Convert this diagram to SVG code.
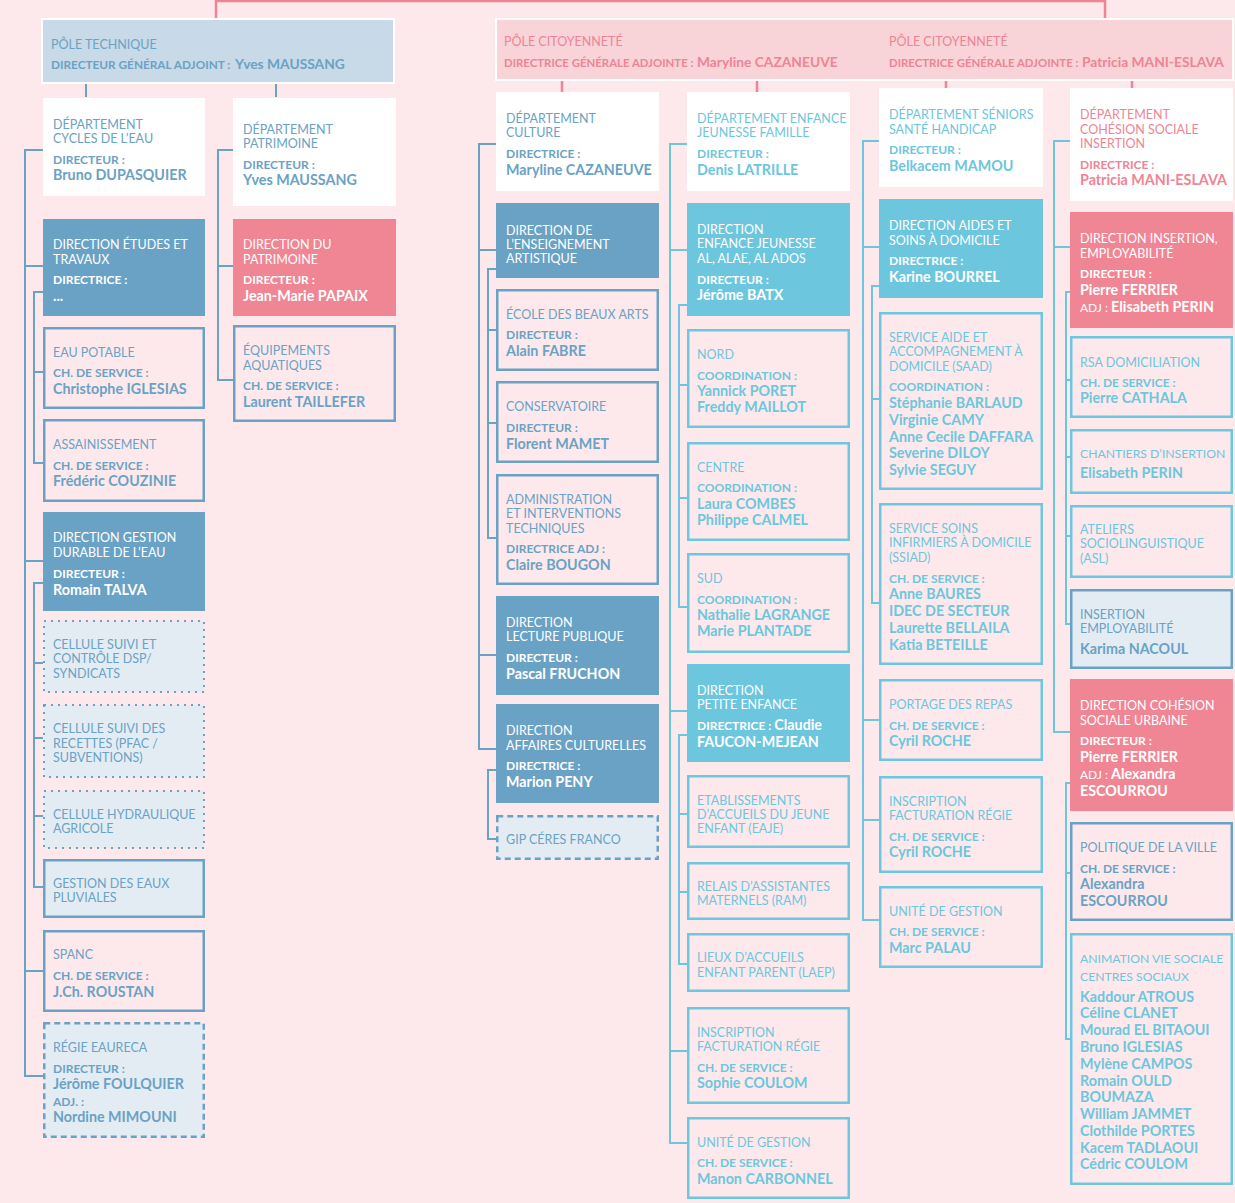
<svg xmlns="http://www.w3.org/2000/svg" width="1235" height="1203" viewBox="0 0 1235 1203">
<style>
text{font-family:Lato,"Liberation Sans",sans-serif}
.t{font-size:12.5px;font-weight:400}
.ts{font-size:12.2px}
.l{font-size:12px;font-weight:700}
.pl{font-size:11.8px;font-weight:700}
.pl2{font-size:11.4px;font-weight:700}
.n{font-size:14.3px;font-weight:700}
.pn{font-size:13.8px;font-weight:700}
.a{font-size:12px;font-weight:400}
.B{fill:#6aa2c5}.C{fill:#6cc6dd}.P{fill:#ef8495}.W{fill:#fff}
.ob{fill:none;stroke:#6aa2c5;stroke-width:2.5}
.oc{fill:none;stroke:#6dc7de;stroke-width:2.5}
.fb{fill:#6aa2c5}.fc{fill:#6cc6dd}.fp{fill:#f08594}.fw{fill:#fff}
.dot{fill:#e3ecf3;stroke:#6aa2c5;stroke-width:2;stroke-dasharray:2 5}
.dash{fill:#e3ecf3;stroke:#6aa2c5;stroke-width:2.5;stroke-dasharray:6 4}
.lb{fill:#e3ecf3;stroke:#6aa2c5;stroke-width:2.5}
.kb{fill:none;stroke:#6aa2c5;stroke-width:2}
.kc{fill:none;stroke:#6cc6dd;stroke-width:2}
.kp{fill:none;stroke:#ef8495;stroke-width:2.5}
</style>
<rect width="1235" height="1203" fill="#fde9ec"/>

<g id="connectors">
<path class="kp" d="M216 18V1H1105V18"/>
<path class="kp" d="M562 80V92M757 80V92M946 80V88M1132 80V88"/>
<path class="kb" d="M86 84V97M276 84V97"/>
<path class="kb" d="M43 150H25V1076H43M25 266H43M25 561H43M25 971H43"/>
<path class="kb" d="M43 292H34V463H43M34 372H43"/>
<path class="kb" d="M43 583H34V887H43M34 663H43M34 738H43M34 816H43"/>
<path class="kb" d="M233 150H218V380H233M218 266H233"/>
<path class="kb" d="M496 144H479V749H496M479 250H496M479 655H496"/>
<path class="kb" d="M496 269H488V538H496M488 330H496M488 423H496"/>
<path class="kb" d="M496 770H488V839H496"/>
<path class="kc" d="M687 144H670V1143H687M670 250H687M670 711H687M670 1051H687"/>
<path class="kc" d="M687 305H679V607H687M679 385H687M679 498H687"/>
<path class="kc" d="M687 735H679V964H687M679 814H687M679 892H687"/>
<path class="kc" d="M879 141H863V920H879M863 247H879M863 720H879M863 820H879"/>
<path class="kc" d="M879 286H872V603H879M872 399H879"/>
<path class="kc" d="M1070 141H1054V732H1070M1054 247H1070"/>
<path class="kc" d="M1070 292H1066V624H1070M1066 380H1070M1066 457H1070M1066 536H1070"/>
<path class="kc" d="M1070 783H1066V1039H1070M1066 873H1070"/>
</g>

<g id="pole-technique">
<rect x="42" y="19" width="352" height="64" fill="#c8d9e7" stroke="#fff" stroke-width="2"/>
<text x="51" y="49" class="t B">PÔLE TECHNIQUE</text>
<text x="51" y="69" class="pl B">DIRECTEUR GÉNÉRAL ADJOINT :</text>
<text x="235" y="69" class="pn B">Yves MAUSSANG</text>
</g>

<g id="pole-citoyennete">
<rect x="496" y="19" width="737" height="61" fill="#f8d3d8" stroke="#fff" stroke-width="2"/>
<text x="504" y="46" class="t P">PÔLE CITOYENNETÉ</text>
<text x="504" y="67" class="pl2 P">DIRECTRICE GÉNÉRALE ADJOINTE :</text>
<text x="697" y="67" class="pn P">Maryline CAZANEUVE</text>
<text x="889" y="46" class="t P">PÔLE CITOYENNETÉ</text>
<text x="889" y="67" class="pl2 P">DIRECTRICE GÉNÉRALE ADJOINTE :</text>
<text x="1082" y="67" class="pn P">Patricia MANI-ESLAVA</text>
</g>

<!-- Technique -->
<g id="dept-cycles-eau">
<rect x="43" y="98" width="162" height="98" class="fw"/>
<text x="53" y="129" class="t B">DÉPARTEMENT</text>
<text x="53" y="143" class="t B">CYCLES DE L’EAU</text>
<text x="53" y="164" class="l B">DIRECTEUR :</text>
<text x="53" y="180" class="n B">Bruno DUPASQUIER</text>
</g>
<g id="dept-patrimoine">
<rect x="233" y="98" width="163" height="108" class="fw"/>
<text x="243" y="134" class="t B">DÉPARTEMENT</text>
<text x="243" y="148" class="t B">PATRIMOINE</text>
<text x="243" y="169" class="l B">DIRECTEUR :</text>
<text x="243" y="185" class="n B">Yves MAUSSANG</text>
</g>
<g id="dir-etudes-travaux">
<rect x="43" y="219" width="162" height="97" class="fb"/>
<text x="53" y="249" class="t W">DIRECTION ÉTUDES ET</text>
<text x="53" y="264" class="t W">TRAVAUX</text>
<text x="53" y="284" class="l W">DIRECTRICE :</text>
<text x="53" y="301" class="n W">...</text>
</g>
<g id="eau-potable">
<rect x="44.25" y="328.25" width="159.5" height="79.5" class="ob"/>
<text x="53" y="357" class="t B">EAU POTABLE</text>
<text x="53" y="377" class="l B">CH. DE SERVICE :</text>
<text x="53" y="394" class="n B">Christophe IGLESIAS</text>
</g>
<g id="assainissement">
<rect x="44.25" y="420.25" width="159.5" height="80.5" class="ob"/>
<text x="53" y="449" class="t B">ASSAINISSEMENT</text>
<text x="53" y="470" class="l B">CH. DE SERVICE :</text>
<text x="53" y="486" class="n B">Frédéric COUZINIE</text>
</g>
<g id="dir-gestion-durable">
<rect x="43" y="512" width="162" height="99" class="fb"/>
<text x="53" y="542" class="t W">DIRECTION GESTION</text>
<text x="53" y="557" class="t W">DURABLE DE L’EAU</text>
<text x="53" y="578" class="l W">DIRECTEUR :</text>
<text x="53" y="595" class="n W">Romain TALVA</text>
</g>
<g id="cellule-dsp">
<rect x="44" y="621" width="160" height="71" class="dot"/>
<text x="53" y="649" class="t B">CELLULE SUIVI ET</text>
<text x="53" y="663" class="t B">CONTRÔLE DSP/</text>
<text x="53" y="678" class="t B">SYNDICATS</text>
</g>
<g id="cellule-recettes">
<rect x="44" y="705" width="160" height="72" class="dot"/>
<text x="53" y="733" class="t B">CELLULE SUIVI DES</text>
<text x="53" y="748" class="t B">RECETTES (PFAC /</text>
<text x="53" y="762" class="t B">SUBVENTIONS)</text>
</g>
<g id="cellule-hydraulique">
<rect x="44" y="791" width="160" height="57" class="dot"/>
<text x="53" y="819" class="t B">CELLULE HYDRAULIQUE</text>
<text x="53" y="833" class="t B">AGRICOLE</text>
</g>
<g id="eaux-pluviales">
<rect x="44.25" y="860.25" width="159.5" height="56.5" class="lb"/>
<text x="53" y="888" class="t B">GESTION DES EAUX</text>
<text x="53" y="902" class="t B">PLUVIALES</text>
</g>
<g id="spanc">
<rect x="44.25" y="931.25" width="159.5" height="79.5" class="ob"/>
<text x="53" y="959" class="t B">SPANC</text>
<text x="53" y="980" class="l B">CH. DE SERVICE :</text>
<text x="53" y="997" class="n B">J.Ch. ROUSTAN</text>
</g>
<g id="regie-eaureca">
<rect x="44.25" y="1023.25" width="159.5" height="113.5" class="dash"/>
<text x="53" y="1052" class="t B">RÉGIE EAURECA</text>
<text x="53" y="1073" class="l B">DIRECTEUR :</text>
<text x="53" y="1089" class="n B">Jérôme FOULQUIER</text>
<text x="53" y="1106" class="l B">ADJ. :</text>
<text x="53" y="1122" class="n B">Nordine MIMOUNI</text>
</g>
<g id="dir-patrimoine">
<rect x="233" y="219" width="163" height="97" class="fp"/>
<text x="243" y="249" class="t W">DIRECTION DU</text>
<text x="243" y="264" class="t W">PATRIMOINE</text>
<text x="243" y="284" class="l W">DIRECTEUR :</text>
<text x="243" y="301" class="n W">Jean-Marie PAPAIX</text>
</g>
<g id="equipements-aquatiques">
<rect x="234.25" y="326.25" width="160.5" height="94.5" class="ob"/>
<text x="243" y="355" class="t B">ÉQUIPEMENTS</text>
<text x="243" y="370" class="t B">AQUATIQUES</text>
<text x="243" y="390" class="l B">CH. DE SERVICE :</text>
<text x="243" y="407" class="n B">Laurent TAILLEFER</text>
</g>

<!-- Culture -->
<g id="dept-culture">
<rect x="496" y="92" width="163" height="99" class="fw"/>
<text x="506" y="123" class="t B">DÉPARTEMENT</text>
<text x="506" y="137" class="t B">CULTURE</text>
<text x="506" y="158" class="l B">DIRECTRICE :</text>
<text x="506" y="175" class="n B">Maryline CAZANEUVE</text>
</g>
<g id="dir-enseignement">
<rect x="496" y="203" width="163" height="75" class="fb"/>
<text x="506" y="235" class="t W">DIRECTION DE</text>
<text x="506" y="249" class="t W">L’ENSEIGNEMENT</text>
<text x="506" y="263" class="t W">ARTISTIQUE</text>
</g>
<g id="ecole-beaux-arts">
<rect x="497.25" y="290.25" width="160.5" height="79.5" class="ob"/>
<text x="506" y="319" class="t B">ÉCOLE DES BEAUX ARTS</text>
<text x="506" y="339" class="l B">DIRECTEUR :</text>
<text x="506" y="356" class="n B">Alain FABRE</text>
</g>
<g id="conservatoire">
<rect x="497.25" y="382.25" width="160.5" height="79.5" class="ob"/>
<text x="506" y="411" class="t B">CONSERVATOIRE</text>
<text x="506" y="432" class="l B">DIRECTEUR :</text>
<text x="506" y="449" class="n B">Florent MAMET</text>
</g>
<g id="administration">
<rect x="497.25" y="475.25" width="160.5" height="108.5" class="ob"/>
<text x="506" y="504" class="t B">ADMINISTRATION</text>
<text x="506" y="518" class="t B">ET INTERVENTIONS</text>
<text x="506" y="533" class="t B">TECHNIQUES</text>
<text x="506" y="553" class="l B">DIRECTRICE ADJ :</text>
<text x="506" y="570" class="n B">Claire BOUGON</text>
</g>
<g id="dir-lecture-publique">
<rect x="496" y="596" width="163" height="99" class="fb"/>
<text x="506" y="627" class="t W">DIRECTION</text>
<text x="506" y="641" class="t W">LECTURE PUBLIQUE</text>
<text x="506" y="662" class="l W">DIRECTEUR :</text>
<text x="506" y="679" class="n W">Pascal FRUCHON</text>
</g>
<g id="dir-affaires-culturelles">
<rect x="496" y="704" width="163" height="99" class="fb"/>
<text x="506" y="735" class="t W">DIRECTION</text>
<text x="506" y="750" class="t W">AFFAIRES CULTURELLES</text>
<text x="506" y="770" class="l W">DIRECTRICE :</text>
<text x="506" y="787" class="n W">Marion PENY</text>
</g>
<g id="gip-ceres-franco">
<rect x="497.25" y="816.25" width="160.5" height="42.5" class="dash"/>
<text x="506" y="844" class="t B">GIP CÉRES FRANCO</text>
</g>

<!-- Enfance -->
<g id="dept-enfance">
<rect x="687" y="92" width="163" height="99" class="fw"/>
<text x="697" y="123" class="t C">DÉPARTEMENT ENFANCE</text>
<text x="697" y="137" class="t C">JEUNESSE FAMILLE</text>
<text x="697" y="158" class="l C">DIRECTEUR :</text>
<text x="697" y="175" class="n C">Denis LATRILLE</text>
</g>
<g id="dir-enfance-jeunesse">
<rect x="687" y="203" width="163" height="113" class="fc"/>
<text x="697" y="234" class="t W">DIRECTION</text>
<text x="697" y="248" class="t W">ENFANCE JEUNESSE</text>
<text x="697" y="263" class="t W">AL, ALAE, AL ADOS</text>
<text x="697" y="284" class="l W">DIRECTEUR :</text>
<text x="697" y="300" class="n W">Jérôme BATX</text>
</g>
<g id="nord">
<rect x="688.25" y="330.25" width="160.5" height="96.5" class="oc"/>
<text x="697" y="359" class="t C">NORD</text>
<text x="697" y="380" class="l C">COORDINATION :</text>
<text x="697" y="396" class="n C">Yannick PORET</text>
<text x="697" y="412" class="n C">Freddy MAILLOT</text>
</g>
<g id="centre">
<rect x="688.25" y="443.25" width="160.5" height="96.5" class="oc"/>
<text x="697" y="472" class="t C">CENTRE</text>
<text x="697" y="492" class="l C">COORDINATION :</text>
<text x="697" y="509" class="n C">Laura COMBES</text>
<text x="697" y="525" class="n C">Philippe CALMEL</text>
</g>
<g id="sud">
<rect x="688.25" y="554.25" width="160.5" height="97.5" class="oc"/>
<text x="697" y="583" class="t C">SUD</text>
<text x="697" y="604" class="l C">COORDINATION :</text>
<text x="697" y="620" class="n C">Nathalie LAGRANGE</text>
<text x="697" y="636" class="n C">Marie PLANTADE</text>
</g>
<g id="dir-petite-enfance">
<rect x="687" y="664" width="163" height="98" class="fc"/>
<text x="697" y="695" class="t W">DIRECTION</text>
<text x="697" y="709" class="t W">PETITE ENFANCE</text>
<text x="697" y="730" class="W"><tspan class="l">DIRECTRICE : </tspan><tspan class="n">Claudie</tspan></text>
<text x="697" y="747" class="n W">FAUCON-MEJEAN</text>
</g>
<g id="etablissements">
<rect x="688.25" y="776.25" width="160.5" height="70.5" class="oc"/>
<text x="697" y="805" class="t C">ETABLISSEMENTS</text>
<text x="697" y="819" class="t C">D’ACCUEILS DU JEUNE</text>
<text x="697" y="833" class="t C">ENFANT (EAJE)</text>
</g>
<g id="relais">
<rect x="688.25" y="863.25" width="160.5" height="55.5" class="oc"/>
<text x="697" y="891" class="t C">RELAIS D’ASSISTANTES</text>
<text x="697" y="905" class="t C">MATERNELS (RAM)</text>
</g>
<g id="lieux-accueil">
<rect x="688.25" y="934.25" width="160.5" height="56.5" class="oc"/>
<text x="697" y="962" class="t C">LIEUX D’ACCUEILS</text>
<text x="697" y="977" class="t C">ENFANT PARENT (LAEP)</text>
</g>
<g id="inscription-enfance">
<rect x="688.25" y="1008.25" width="160.5" height="94.5" class="oc"/>
<text x="697" y="1037" class="t C">INSCRIPTION</text>
<text x="697" y="1051" class="t C">FACTURATION RÉGIE</text>
<text x="697" y="1072" class="l C">CH. DE SERVICE :</text>
<text x="697" y="1088" class="n C">Sophie COULOM</text>
</g>
<g id="unite-enfance">
<rect x="688.25" y="1118.25" width="160.5" height="79.5" class="oc"/>
<text x="697" y="1147" class="t C">UNITÉ DE GESTION</text>
<text x="697" y="1167" class="l C">CH. DE SERVICE :</text>
<text x="697" y="1184" class="n C">Manon CARBONNEL</text>
</g>

<!-- Seniors -->
<g id="dept-seniors">
<rect x="879" y="88" width="164" height="99" class="fw"/>
<text x="889" y="119" class="t C">DÉPARTEMENT SÉNIORS</text>
<text x="889" y="134" class="t C">SANTÉ HANDICAP</text>
<text x="889" y="154" class="l C">DIRECTEUR :</text>
<text x="889" y="171" class="n C">Belkacem MAMOU</text>
</g>
<g id="dir-aides-soins">
<rect x="879" y="199" width="164" height="99" class="fc"/>
<text x="889" y="230" class="t W">DIRECTION AIDES ET</text>
<text x="889" y="245" class="t W">SOINS À DOMICILE</text>
<text x="889" y="265" class="l W">DIRECTRICE :</text>
<text x="889" y="282" class="n W">Karine BOURREL</text>
</g>
<g id="saad">
<rect x="880.25" y="313.25" width="161.5" height="175.5" class="oc"/>
<text x="889" y="342" class="t C">SERVICE AIDE ET</text>
<text x="889" y="356" class="t C">ACCOMPAGNEMENT À</text>
<text x="889" y="371" class="t C">DOMICILE (SAAD)</text>
<text x="889" y="391" class="l C">COORDINATION :</text>
<text x="889" y="408" class="n C">Stéphanie BARLAUD</text>
<text x="889" y="425" class="n C">Virginie CAMY</text>
<text x="889" y="442" class="n C">Anne Cecile DAFFARA</text>
<text x="889" y="458" class="n C">Severine DILOY</text>
<text x="889" y="475" class="n C">Sylvie SEGUY</text>
</g>
<g id="ssiad">
<rect x="880.25" y="504.25" width="161.5" height="159.5" class="oc"/>
<text x="889" y="533" class="t C">SERVICE SOINS</text>
<text x="889" y="547" class="t C">INFIRMIERS À DOMICILE</text>
<text x="889" y="562" class="t C">(SSIAD)</text>
<text x="889" y="583" class="l C">CH. DE SERVICE :</text>
<text x="889" y="599" class="n C">Anne BAURES</text>
<text x="889" y="616" class="n C">IDEC DE SECTEUR</text>
<text x="889" y="633" class="n C">Laurette BELLAILA</text>
<text x="889" y="650" class="n C">Katia BETEILLE</text>
</g>
<g id="portage-repas">
<rect x="880.25" y="680.25" width="161.5" height="79.5" class="oc"/>
<text x="889" y="709" class="t C">PORTAGE DES REPAS</text>
<text x="889" y="730" class="l C">CH. DE SERVICE :</text>
<text x="889" y="746" class="n C">Cyril ROCHE</text>
</g>
<g id="inscription-seniors">
<rect x="880.25" y="777.25" width="161.5" height="94.5" class="oc"/>
<text x="889" y="806" class="t C">INSCRIPTION</text>
<text x="889" y="820" class="t C">FACTURATION RÉGIE</text>
<text x="889" y="841" class="l C">CH. DE SERVICE :</text>
<text x="889" y="857" class="n C">Cyril ROCHE</text>
</g>
<g id="unite-seniors">
<rect x="880.25" y="887.25" width="161.5" height="79.5" class="oc"/>
<text x="889" y="916" class="t C">UNITÉ DE GESTION</text>
<text x="889" y="936" class="l C">CH. DE SERVICE :</text>
<text x="889" y="953" class="n C">Marc PALAU</text>
</g>

<!-- Cohesion -->
<g id="dept-cohesion">
<rect x="1070" y="88" width="163" height="113" class="fw"/>
<text x="1080" y="119" class="t P">DÉPARTEMENT</text>
<text x="1080" y="134" class="t P">COHÉSION SOCIALE</text>
<text x="1080" y="148" class="t P">INSERTION</text>
<text x="1080" y="169" class="l P">DIRECTRICE :</text>
<text x="1080" y="185" class="n P">Patricia MANI-ESLAVA</text>
</g>
<g id="dir-insertion">
<rect x="1070" y="212" width="163" height="116" class="fp"/>
<text x="1080" y="243" class="t W">DIRECTION INSERTION,</text>
<text x="1080" y="258" class="t W">EMPLOYABILITÉ</text>
<text x="1080" y="278" class="l W">DIRECTEUR :</text>
<text x="1080" y="295" class="n W">Pierre FERRIER</text>
<text x="1080" y="312" class="W"><tspan class="a">ADJ : </tspan><tspan class="n">Elisabeth PERIN</tspan></text>
</g>
<g id="rsa">
<rect x="1071.25" y="337.25" width="160.5" height="79.5" class="oc"/>
<text x="1080" y="367" class="t C">RSA DOMICILIATION</text>
<text x="1080" y="387" class="l C">CH. DE SERVICE :</text>
<text x="1080" y="403" class="n C">Pierre CATHALA</text>
</g>
<g id="chantiers">
<rect x="1071.25" y="430.25" width="160.5" height="62.5" class="oc"/>
<text x="1080" y="458" class="t ts C">CHANTIERS D’INSERTION</text>
<text x="1080" y="478" class="n C">Elisabeth PERIN</text>
</g>
<g id="ateliers">
<rect x="1071.25" y="506.25" width="160.5" height="70.5" class="oc"/>
<text x="1080" y="534" class="t C">ATELIERS</text>
<text x="1080" y="548" class="t C">SOCIOLINGUISTIQUE</text>
<text x="1080" y="563" class="t C">(ASL)</text>
</g>
<g id="insertion-employabilite">
<rect x="1071.25" y="590.25" width="160.5" height="77.5" class="lb"/>
<text x="1080" y="619" class="t B">INSERTION</text>
<text x="1080" y="633" class="t B">EMPLOYABILITÉ</text>
<text x="1080" y="654" class="n B">Karima NACOUL</text>
</g>
<g id="dir-cohesion-urbaine">
<rect x="1070" y="679" width="163" height="132" class="fp"/>
<text x="1080" y="710" class="t W">DIRECTION COHÉSION</text>
<text x="1080" y="725" class="t W">SOCIALE URBAINE</text>
<text x="1080" y="745" class="l W">DIRECTEUR :</text>
<text x="1080" y="762" class="n W">Pierre FERRIER</text>
<text x="1080" y="779" class="W"><tspan class="a">ADJ : </tspan><tspan class="n">Alexandra</tspan></text>
<text x="1080" y="796" class="n W">ESCOURROU</text>
</g>
<g id="politique-ville">
<rect x="1071.25" y="823.25" width="160.5" height="96.5" class="ob"/>
<text x="1080" y="852" class="t B">POLITIQUE DE LA VILLE</text>
<text x="1080" y="873" class="l B">CH. DE SERVICE :</text>
<text x="1080" y="889" class="n B">Alexandra</text>
<text x="1080" y="906" class="n B">ESCOURROU</text>
</g>
<g id="animation-vie-sociale">
<rect x="1071.25" y="934.25" width="160.5" height="249.5" class="oc"/>
<text x="1080" y="963" class="t ts C">ANIMATION VIE SOCIALE</text>
<text x="1080" y="981" class="t ts C">CENTRES SOCIAUX</text>
<text x="1080" y="1002" class="n C">Kaddour ATROUS</text>
<text x="1080" y="1018" class="n C">Céline CLANET</text>
<text x="1080" y="1035" class="n C">Mourad EL BITAOUI</text>
<text x="1080" y="1052" class="n C">Bruno IGLESIAS</text>
<text x="1080" y="1069" class="n C">Mylène CAMPOS</text>
<text x="1080" y="1086" class="n C">Romain OULD</text>
<text x="1080" y="1102" class="n C">BOUMAZA</text>
<text x="1080" y="1119" class="n C">William JAMMET</text>
<text x="1080" y="1136" class="n C">Clothilde PORTES</text>
<text x="1080" y="1153" class="n C">Kacem TADLAOUI</text>
<text x="1080" y="1169" class="n C">Cédric COULOM</text>
</g>
</svg>
